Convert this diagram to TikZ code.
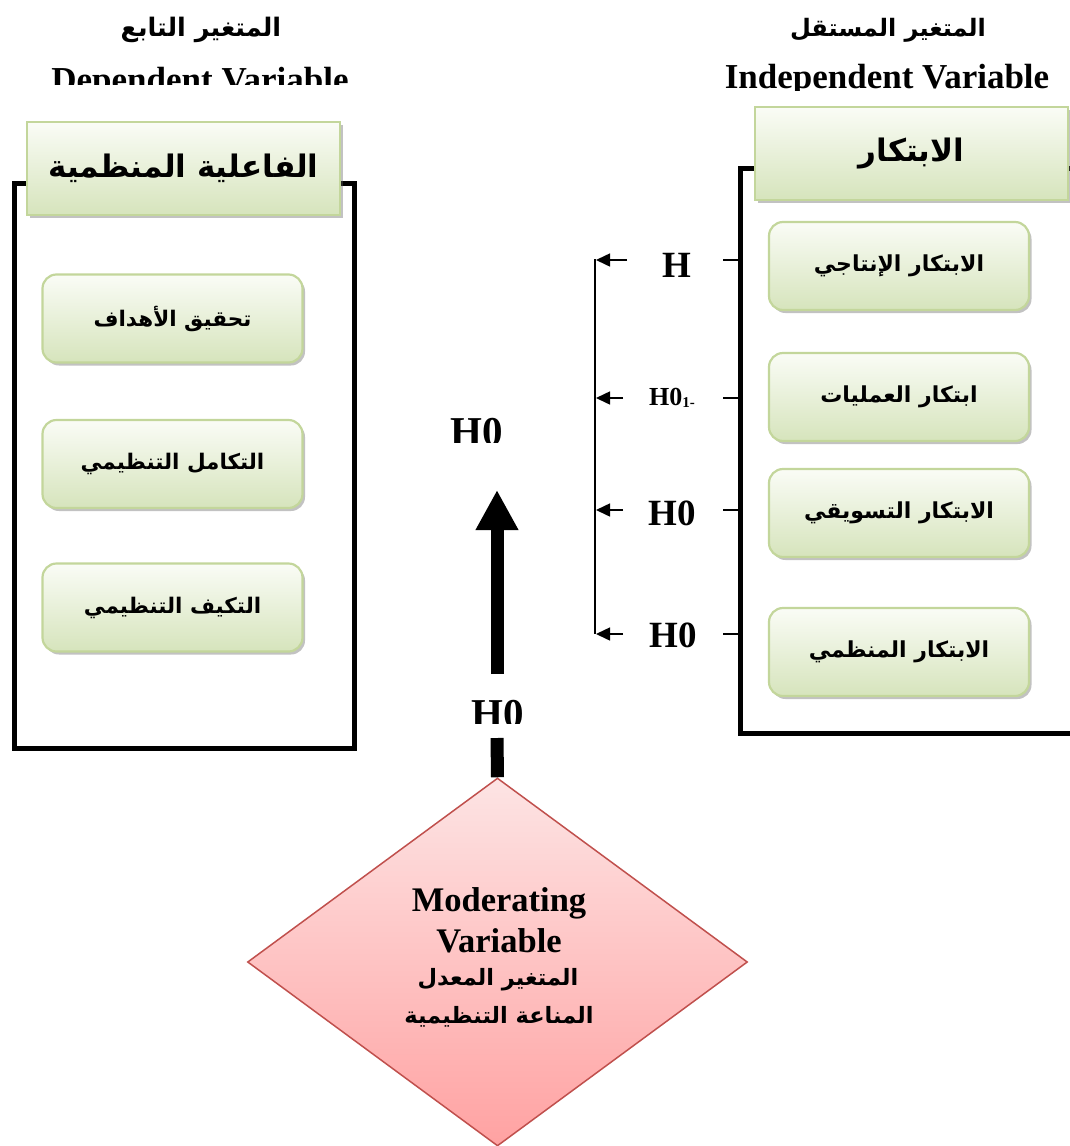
\documentclass[tikz,border=0pt]{standalone}
\usepackage{fontspec}
\setmainfont{Liberation Serif}
\newfontfamily\arfont[Script=Arabic]{DejaVu Sans}
\TeXXeTstate=1
\usetikzlibrary{shapes.geometric,shadows,arrows.meta}
\newcommand{\ARs}[2]{{\fontsize{#1}{#1}\selectfont\arfont\bfseries\beginR #2\endR}}
\newcommand{\ENs}[2]{{\fontsize{#1}{#1}\selectfont\bfseries #2}}
\definecolor{gborder}{RGB}{195,214,155}
\definecolor{gbot}{RGB}{214,228,188}
\definecolor{gtop}{RGB}{250,252,246}
\definecolor{pborder}{RGB}{192,80,77}
\definecolor{ptop}{RGB}{253,228,228}
\definecolor{pbot}{RGB}{255,162,162}
\begin{document}
\begin{tikzpicture}[x=1pt,y=-1pt,
  greenbox/.style={draw=gborder, line width=2.2pt, top color=gtop, bottom color=gbot,
    drop shadow={shadow xshift=2.5pt, shadow yshift=-3pt, opacity=0.4, fill=black!60},
    inner sep=0pt, text=black},
  itembox/.style={greenbox, rounded corners=14pt, minimum width=260pt, minimum height=88pt},
  headbox/.style={greenbox, minimum width=313pt, minimum height=93pt},
  frame/.style={line width=5pt, draw=black},
  tick/.style={line width=1.5pt},
  harrow/.style={line width=1.5pt, -{Triangle[length=14pt,width=13pt]}},
  bigarrow/.style={line width=13pt, -{Triangle[length=40pt,width=40pt]}},
  hlab/.style={anchor=base, inner sep=0pt}
]
\useasboundingbox (0,0) rectangle (1070,1146);

% titles
\node (tdepar) at (201,30) {\ARs{25.5}{المتغير التابع}};
\node (tindar) at (888,30) {\ARs{24}{المتغير المستقل}};
\begin{scope}
  \clip (0,50) rectangle (420,84);
  \node[anchor=base, inner sep=0pt] (tdepen) at (200,91) {\ENs{35}{Dependent Variable}};
\end{scope}
\begin{scope}
  \clip (650,50) rectangle (1070,90);
  \node[anchor=base, inner sep=0pt] (tinden) at (887,88) {\ENs{35}{Independent Variable}};
\end{scope}

% frames
\draw[frame] (14,183) rectangle (354,748);
\draw[frame] (1075,168) -- (740,168) -- (740,733) -- (1075,733);

% headers
\node[headbox] (lhead) at (183.5,168.5) {\ARs{31}{الفاعلية المنظمية}};
\node[headbox] (rhead) at (911.5,153.5) {\ARs{31}{الابتكار}};

% left items
\node[itembox] (l1) at (172.5,318.5) {\ARs{21.5}{تحقيق الأهداف}};
\node[itembox] (l2) at (172.5,464) {\ARs{21.5}{التكامل التنظيمي}};
\node[itembox] (l3) at (172.5,607.5) {\ARs{21.5}{التكيف التنظيمي}};

% right items
\node[itembox] (r1) at (899,266) {\ARs{22}{الابتكار الإنتاجي}};
\node[itembox] (r2) at (899,397) {\ARs{22}{ابتكار العمليات}};
\node[itembox] (r3) at (899,513) {\ARs{22}{الابتكار التسويقي}};
\node[itembox] (r4) at (899,652) {\ARs{22}{الابتكار المنظمي}};

% hypothesis labels
\node[hlab] (h1) at (677,277) {\ENs{37}{H}};
\node[hlab] (h2) at (672,405) {\ENs{26}{H0\raisebox{-0.1em}{\fontsize{15}{15}\selectfont 1-}}};
\node[hlab] (h3) at (672,525) {\ENs{37}{H0}};
\node[hlab] (h4) at (673,647) {\ENs{37}{H0}};

% coordinates for ticks and arrows
\foreach \n/\y/\s in {1/260/627, 2/398/623, 3/510/623, 4/634/623}{
  \coordinate (t\n a) at (723,\y);
  \coordinate (t\n b) at (740,\y);
  \coordinate (a\n s) at (\s,\y);
  \coordinate (a\n e) at (596,\y);
}
\foreach \n in {1,2,3,4}{
  \draw[tick] (t\n a) -- (t\n b);
  \draw[harrow] (a\n s) -- (a\n e);
}
\coordinate (vtop) at (595,259);
\coordinate (vbot) at (595,634);
\draw[line width=1.3pt] (vtop) -- (vbot);

% moderating diamond
\node[diamond, draw=pborder, line width=1.5pt, top color=ptop, bottom color=pbot,
      minimum width=500pt, minimum height=368pt, inner sep=0pt] (mod) at (497.5,962) {};
\node (m1) at (499,903) {\ENs{34.5}{Moderating}};
\node (m2) at (499,941) {\ENs{34.5}{Variable}};
\node (m3) at (498,980) {\ARs{22.5}{المتغير المعدل}};
\node (m4) at (499,1017) {\ARs{22.5}{المناعة التنظيمية}};

% central arrow
\begin{scope}
  \clip (400,400) rectangle (560,442);
  \node[hlab] (hc1) at (477,445) {\ENs{41}{H0}};
\end{scope}
\begin{scope}
  \clip (400,690) rectangle (560,723);
  \node[hlab] (hc2) at (498,727) {\ENs{41}{H0}};
\end{scope}
\coordinate (s1) at (497,738);
\coordinate (s2) at (497,674);
\coordinate (tip) at (497,490);
\draw[line width=13pt] (mod.north) -- (s1);
\draw[bigarrow] (s2) -- (tip);
\end{tikzpicture}
\end{document}
